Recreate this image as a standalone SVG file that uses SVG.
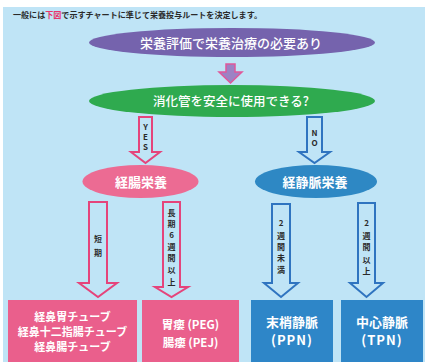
<svg xmlns="http://www.w3.org/2000/svg" width="425" height="362" viewBox="0 0 425 362">
<defs>
<style>
.t{font-family:"Noto Sans CJK JP","Noto Sans",sans-serif;font-weight:bold;fill:#fff;text-anchor:middle}
.tm{font-weight:500}
.lab{font-family:"Noto Sans CJK JP","Noto Sans",sans-serif;font-weight:bold;fill:#2a2a2a;text-anchor:middle;font-size:8px}
.pa{fill:#bfe4f6;stroke:#e5447b;stroke-width:2;stroke-linejoin:miter}
.ba{fill:#bfe4f6;stroke:#2f74c0;stroke-width:2;stroke-linejoin:miter}
</style>
</defs>
<rect x="0" y="0" width="425" height="362" fill="#ffffff"/>
<rect x="3" y="7" width="422" height="355" fill="#bfe4f6"/>
<text x="13" y="18" font-family="'Noto Sans CJK JP',sans-serif" font-weight="bold" font-size="8" fill="#2a2a2a" textLength="249" lengthAdjust="spacingAndGlyphs">一般には<tspan fill="#e8336b">下図</tspan>で示すチャートに準じて栄養投与ルートを決定します。</text>

<g id="connectors">
  <polygon points="226,64 235,64 235,72 242,72 230.5,83 219,72 226,72" fill="#9c82c4" stroke="#e0579a" stroke-width="1.5"/>
  <polygon class="pa" points="139,117 152,117 152,152 160,152 145.5,163 131,152 139,152"/>
  <polygon class="ba" points="307,117 322,117 322,152 330,152 314.5,163 299,152 307,152"/>
  <polygon class="pa" points="89,202 107,202 107,283 117,283 98,297 79,283 89,283"/>
  <polygon class="pa" points="163,202 180,202 180,287 188,287 171.5,297 155,287 163,287"/>
  <polygon class="ba" points="272,204 290,204 290,283 298,283 281,297 264,283 272,283"/>
  <polygon class="ba" points="358,203 375,203 375,283 383,283 366.5,297 350,283 358,283"/>
  <text class="lab" font-size="7"><tspan x="145.5" y="130">Y</tspan><tspan x="145.5" y="140">E</tspan><tspan x="145.5" y="150">S</tspan></text>
  <text class="lab" font-size="7"><tspan x="314.5" y="136">N</tspan><tspan x="314.5" y="146">O</tspan></text>
  <text class="lab"><tspan x="98" y="242">短</tspan><tspan x="98" y="256">期</tspan></text>
  <text class="lab"><tspan x="171.5" y="216">長</tspan><tspan x="171.5" y="227">期</tspan><tspan x="171.5" y="238">6</tspan><tspan x="171.5" y="250">週</tspan><tspan x="171.5" y="261">間</tspan><tspan x="171.5" y="273">以</tspan><tspan x="171.5" y="285">上</tspan></text>
  <text class="lab"><tspan x="281" y="226">2</tspan><tspan x="281" y="239">週</tspan><tspan x="281" y="250">間</tspan><tspan x="281" y="261">未</tspan><tspan x="281" y="273">満</tspan></text>
  <text class="lab"><tspan x="366.5" y="226">2</tspan><tspan x="366.5" y="239">週</tspan><tspan x="366.5" y="250">間</tspan><tspan x="366.5" y="263">以</tspan><tspan x="366.5" y="274">上</tspan></text>
</g>

<g id="node-assess">
  <ellipse cx="232" cy="42.5" rx="143" ry="14.5" fill="#7563ad"/>
  <text class="t tm" x="231" y="47.5" font-size="13">栄養評価で栄養治療の必要あり</text>
</g>
<g id="node-gi">
  <ellipse cx="232" cy="101" rx="143" ry="16" fill="#2faa4f"/>
  <text class="t tm" x="231" y="106" font-size="12.5">消化管を安全に使用できる?</text>
</g>
<g id="node-enteral">
  <ellipse cx="140.5" cy="181.5" rx="58" ry="16.5" fill="#ec6b93"/>
  <text class="t" x="141" y="186.5" font-size="13">経腸栄養</text>
</g>
<g id="node-parenteral">
  <ellipse cx="316" cy="181.5" rx="61" ry="16.5" fill="#2e88c4"/>
  <text class="t" x="315" y="186.5" font-size="13">経静脈栄養</text>
</g>
<g id="node-tube">
  <rect x="8" y="300" width="129" height="62" fill="#ea5f8c"/>
  <text class="t" font-size="11"><tspan x="72.5" y="321">経鼻胃チューブ</tspan><tspan x="72.5" y="336">経鼻十二指腸チューブ</tspan><tspan x="72.5" y="351">経鼻腸チューブ</tspan></text>
</g>
<g id="node-peg">
  <rect x="142" y="300" width="97" height="62" fill="#ea5f8c"/>
  <text class="t" font-size="11.5"><tspan x="190.5" y="329">胃瘻 (PEG)</tspan><tspan x="190.5" y="347">腸瘻 (PEJ)</tspan></text>
</g>
<g id="node-ppn">
  <rect x="251" y="300" width="82" height="62" fill="#2e86c8"/>
  <text class="t" font-size="13"><tspan x="292" y="327">末梢静脈</tspan><tspan x="292" y="345" letter-spacing="1">(PPN)</tspan></text>
</g>
<g id="node-tpn">
  <rect x="341" y="300" width="82" height="62" fill="#2e86c8"/>
  <text class="t" font-size="13"><tspan x="382" y="327">中心静脈</tspan><tspan x="382" y="345" letter-spacing="1">(TPN)</tspan></text>
</g>
</svg>
